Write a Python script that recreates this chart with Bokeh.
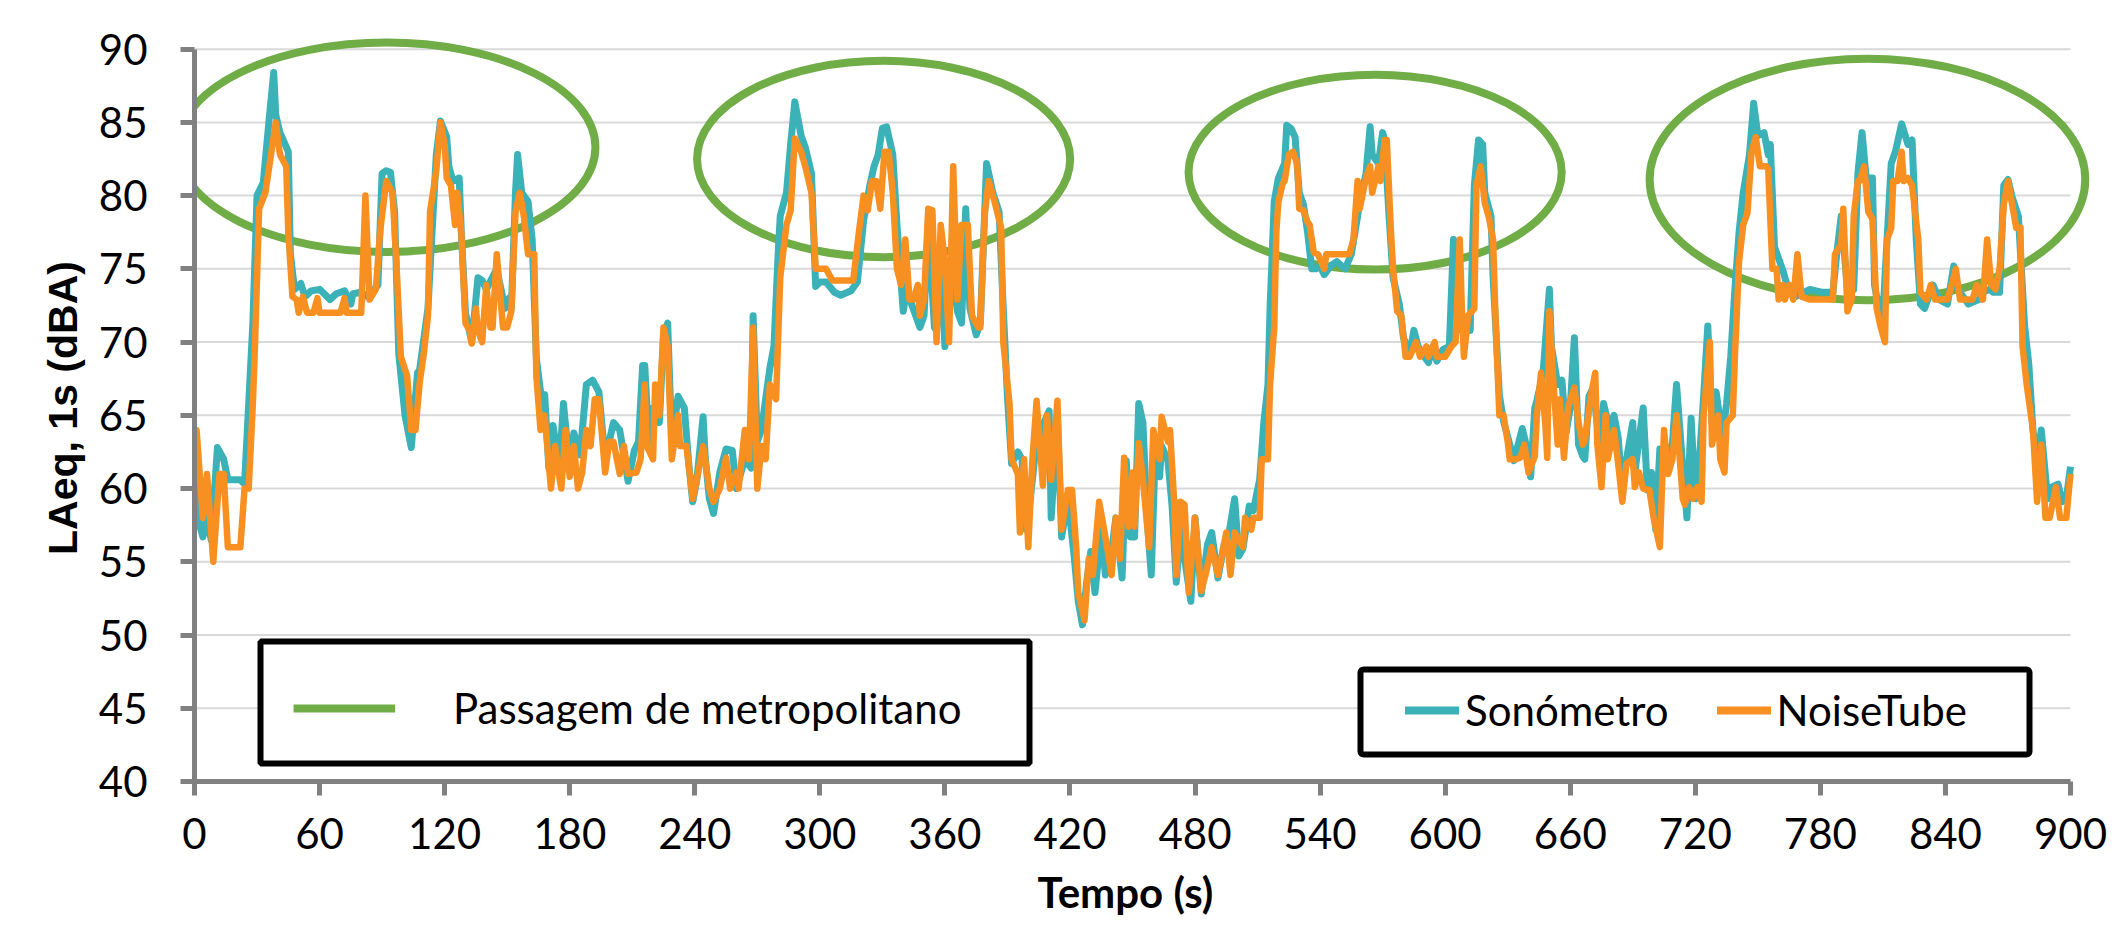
from bokeh.plotting import figure
from bokeh.models import Range1d, FixedTicker, Legend, LegendItem, BoxAnnotation, Title
from bokeh.embed import file_html
from bokeh.resources import INLINE

# Sound level meter (Sonómetro), LAeq 1 s, dBA
sono_t = [0, 1, 4, 6, 8, 11, 14, 16, 22, 24, 26, 28, 30, 33, 36, 38, 39, 41, 45, 46,
          48, 51, 53, 56, 60, 65, 68, 72, 75, 76, 80, 83, 85, 88, 90, 92, 94, 96, 98, 101,
          104, 107, 108, 112, 115, 116, 118, 121, 122, 124, 127, 128, 130, 133, 136, 138, 140, 145, 149, 151,
          152, 154, 155, 157, 160, 162, 164, 167, 168, 170, 172, 175, 177, 180, 182, 185, 188, 191, 194, 197,
          201, 204, 208, 211, 213, 215, 216, 218, 220, 223, 225, 227, 229, 232, 235, 237, 239, 241, 244, 245,
          247, 249, 252, 255, 258, 260, 264, 267, 268, 270, 272, 276, 278, 280, 281, 284, 286, 288, 291, 293,
          296, 298, 300, 303, 307, 310, 315, 318, 321, 324, 326, 328, 330, 332, 335, 337, 340, 342, 344, 348,
          350, 352, 355, 356, 358, 360, 363, 366, 368, 370, 372, 375, 377, 380, 383, 386, 388, 390, 392, 395,
          397, 399, 401, 403, 406, 410, 411, 414, 416, 419, 422, 424, 426, 428, 430, 432, 435, 437, 439, 442,
          445, 447, 449, 451, 453, 455, 457, 459, 461, 463, 464, 467, 469, 471, 473, 475, 478, 480, 483, 486,
          488, 491, 494, 496, 499, 501, 503, 506, 508, 511, 513, 515, 516, 518, 520, 523, 524, 526, 528, 530,
          532, 534, 536, 538, 540, 542, 545, 548, 552, 555, 558, 559, 562, 564, 565, 568, 570, 571, 573, 575,
          578, 580, 583, 585, 587, 590, 592, 594, 596, 599, 602, 604, 606, 608, 611, 612, 614, 616, 618, 619,
          622, 623, 626, 628, 631, 633, 635, 637, 639, 641, 643, 644, 647, 650, 651, 654, 656, 658, 660, 662,
          664, 666, 667, 669, 671, 674, 676, 679, 681, 683, 685, 687, 690, 691, 695, 697, 699, 701, 703, 706,
          709, 711, 714, 716, 718, 720, 722, 724, 726, 728, 730, 733, 735, 737, 739, 741, 743, 746, 748, 750,
          753, 755, 756, 758, 760, 762, 765, 768, 775, 781, 786, 788, 790, 793, 796, 798, 800, 802, 805, 806,
          808, 810, 812, 814, 816, 819, 822, 824, 826, 828, 830, 834, 837, 841, 844, 846, 851, 856, 858, 861,
          863, 866, 868, 870, 872, 875, 878, 880, 882, 884, 886, 889, 891, 894, 896, 898, 900]
sono_db = [62.6, 58.3, 56.7, 58.0, 56.5, 62.8, 62.0, 60.6, 60.6, 60.3, 65.8, 71.3, 80.0, 80.9, 85.5, 88.4, 85.5, 84.3, 83.0, 76.0,
           73.6, 74.0, 73.1, 73.5, 73.6, 72.9, 73.3, 73.5, 72.6, 73.3, 73.4, 73.1, 73.4, 73.9, 81.5, 81.7, 81.6, 78.9, 69.2, 65.0,
           62.8, 67.9, 68.1, 72.3, 80.2, 82.8, 85.1, 84.0, 82.0, 81.0, 81.2, 77.5, 72.0, 70.0, 74.4, 74.2, 73.6, 75.0, 72.3, 73.0,
           72.3, 80.2, 82.8, 80.2, 79.6, 77.0, 68.9, 65.5, 66.4, 61.4, 64.3, 61.4, 65.8, 61.4, 63.8, 62.3, 67.1, 67.4, 66.6, 62.0,
           64.5, 64.0, 60.5, 62.6, 63.2, 68.4, 68.4, 63.2, 65.5, 64.5, 70.3, 71.3, 63.2, 66.3, 65.5, 61.9, 59.1, 60.6, 64.9, 62.2,
           59.3, 58.3, 61.1, 62.7, 62.6, 60.0, 62.0, 61.4, 71.8, 63.2, 64.0, 68.2, 69.7, 76.0, 78.6, 80.2, 83.5, 86.4, 84.1, 83.3,
           81.5, 73.8, 74.1, 74.1, 73.4, 73.2, 73.5, 74.1, 78.3, 80.7, 82.0, 82.8, 84.6, 84.7, 82.8, 78.0, 72.1, 73.9, 72.6, 71.0,
           71.8, 78.0, 71.0, 70.8, 76.0, 69.7, 75.7, 72.1, 71.3, 79.1, 72.3, 70.5, 71.3, 82.2, 80.2, 78.9, 72.3, 66.3, 61.7, 62.5,
           62.0, 57.2, 59.3, 62.0, 64.0, 65.3, 58.0, 64.8, 56.7, 59.3, 55.4, 52.3, 50.7, 53.6, 55.7, 52.9, 57.2, 54.1, 54.6, 58.0,
           53.9, 61.9, 56.7, 56.7, 65.8, 64.5, 58.0, 54.1, 62.9, 60.8, 62.9, 61.9, 58.8, 53.6, 57.2, 55.2, 52.3, 58.0, 52.8, 56.2,
           57.0, 53.9, 56.2, 56.7, 59.3, 55.4, 55.9, 58.8, 58.5, 60.6, 64.5, 67.1, 72.3, 79.6, 81.2, 82.2, 84.8, 84.6, 84.0, 80.2,
           79.4, 77.5, 75.0, 75.0, 75.2, 74.6, 75.2, 75.5, 75.0, 76.0, 78.6, 79.6, 81.5, 84.7, 82.8, 82.2, 84.3, 83.8, 78.8, 74.4,
           72.6, 70.3, 69.2, 70.8, 69.7, 69.0, 68.6, 69.7, 68.7, 69.5, 69.7, 77.0, 75.0, 70.8, 71.3, 70.8, 80.7, 83.8, 83.5, 80.2,
           78.6, 74.4, 66.4, 64.6, 63.0, 61.9, 63.0, 64.1, 62.9, 60.8, 65.5, 66.0, 67.9, 73.6, 69.7, 67.1, 67.4, 63.8, 65.5, 70.3,
           63.0, 62.2, 62.0, 66.3, 66.9, 63.0, 65.8, 64.0, 65.0, 63.5, 59.9, 62.0, 64.5, 61.1, 65.5, 59.9, 61.1, 57.2, 62.7, 62.5,
           63.0, 67.1, 61.4, 58.0, 64.8, 59.3, 62.0, 66.3, 71.1, 64.5, 66.6, 63.5, 65.8, 69.0, 73.6, 77.5, 80.2, 82.8, 86.3, 84.1,
           84.3, 82.8, 83.5, 76.5, 75.7, 74.9, 73.4, 73.1, 73.6, 73.4, 73.4, 76.2, 78.6, 73.6, 73.6, 81.5, 84.3, 81.2, 81.2, 73.9,
           72.3, 71.8, 77.0, 82.2, 83.0, 84.9, 83.5, 83.8, 77.0, 72.6, 72.3, 73.9, 72.9, 72.6, 75.2, 73.6, 72.6, 72.9, 73.4, 73.6,
           73.4, 73.4, 80.7, 81.1, 79.9, 78.6, 71.1, 68.5, 64.0, 61.9, 64.0, 59.3, 60.1, 60.3, 59.1, 59.3, 61.5]

# Smartphone app (NoiseTube), LAeq 1 s, dBA
tube_t = [0, 1, 4, 6, 9, 12, 14, 16, 22, 24, 26, 28, 29, 31, 34, 39, 41, 44, 45, 47,
          49, 50, 52, 54, 57, 59, 60, 70, 72, 73, 80, 82, 84, 87, 89, 92, 95, 97, 99, 102,
          104, 106, 108, 110, 112, 113, 116, 118, 120, 121, 123, 125, 126, 128, 130, 132, 133, 135, 136, 138,
          140, 142, 143, 145, 148, 150, 152, 154, 156, 158, 160, 163, 164, 166, 168, 171, 173, 175, 176, 178,
          180, 182, 184, 186, 188, 190, 192, 194, 197, 199, 201, 204, 206, 208, 212, 214, 216, 217, 220, 221,
          223, 225, 227, 229, 232, 233, 236, 239, 241, 244, 247, 249, 252, 255, 257, 260, 261, 264, 266, 268,
          270, 272, 274, 276, 279, 281, 284, 286, 288, 291, 293, 296, 298, 300, 303, 306, 316, 319, 321, 323,
          325, 327, 329, 331, 333, 335, 337, 339, 341, 343, 345, 347, 348, 350, 352, 354, 356, 358, 360, 362,
          364, 366, 368, 371, 373, 376, 377, 379, 381, 384, 387, 388, 391, 392, 395, 396, 398, 400, 402, 404,
          407, 409, 411, 414, 416, 419, 421, 423, 424, 427, 429, 431, 434, 437, 440, 442, 444, 446, 448, 450,
          451, 453, 455, 458, 460, 463, 464, 467, 468, 470, 471, 473, 475, 477, 480, 483, 485, 488, 491, 495,
          497, 499, 503, 504, 507, 508, 511, 512, 515, 516, 518, 519, 520, 522, 523, 525, 527, 529, 530, 532,
          534, 535, 537, 539, 542, 543, 547, 554, 556, 558, 559, 562, 564, 565, 568, 569, 571, 572, 574, 575,
          577, 579, 581, 583, 586, 588, 591, 592, 595, 596, 600, 603, 605, 607, 608, 609, 611, 614, 615, 617,
          619, 621, 623, 624, 626, 628, 630, 631, 634, 636, 638, 640, 643, 644, 646, 648, 649, 650, 652, 654,
          655, 657, 659, 662, 664, 666, 667, 670, 672, 673, 675, 677, 678, 681, 683, 685, 687, 690, 691, 693,
          695, 698, 700, 703, 705, 707, 709, 711, 714, 715, 717, 719, 721, 723, 724, 727, 728, 731, 732, 734,
          735, 738, 739, 741, 743, 745, 747, 749, 751, 754, 755, 757, 759, 760, 762, 763, 765, 767, 769, 771,
          775, 786, 787, 790, 791, 793, 795, 796, 798, 799, 801, 803, 805, 807, 809, 811, 812, 814, 815, 817,
          819, 820, 822, 824, 827, 828, 831, 833, 835, 841, 843, 845, 847, 853, 855, 858, 860, 862, 864, 866,
          868, 870, 872, 874, 876, 877, 879, 882, 884, 886, 888, 890, 893, 895, 898, 900]
tube_db = [62.7, 64.0, 58.0, 61.0, 55.0, 61.0, 61.0, 56.0, 56.0, 60.0, 60.0, 65.8, 69.7, 79.1, 80.2, 85.0, 82.8, 82.0, 77.5, 73.1,
           72.9, 72.0, 73.1, 72.0, 72.0, 73.0, 72.0, 72.0, 73.0, 72.0, 72.0, 80.0, 72.9, 73.6, 77.5, 81.0, 80.2, 75.0, 69.0, 67.7,
           64.0, 64.0, 67.2, 69.2, 71.8, 78.9, 81.7, 85.0, 83.5, 81.2, 80.7, 78.0, 80.2, 77.5, 71.3, 70.8, 69.9, 72.3, 70.8, 70.0,
           73.9, 71.0, 71.0, 76.0, 71.0, 71.0, 72.1, 78.9, 80.2, 78.6, 76.0, 76.0, 67.7, 64.0, 65.0, 60.0, 62.9, 60.8, 60.0, 64.0,
           60.8, 62.9, 60.0, 61.1, 64.0, 62.9, 66.1, 66.1, 61.1, 63.2, 63.2, 61.0, 62.9, 61.0, 61.1, 62.0, 67.1, 62.9, 62.0, 67.1,
           65.0, 71.0, 69.7, 62.0, 65.0, 62.9, 62.9, 59.3, 60.6, 62.9, 60.0, 59.1, 60.0, 62.1, 60.0, 61.1, 60.0, 64.0, 62.0, 71.0,
           60.0, 62.9, 62.0, 67.1, 66.1, 74.4, 78.0, 79.0, 83.9, 83.0, 82.0, 80.2, 75.0, 75.0, 75.0, 74.2, 74.2, 77.8, 80.0, 79.0,
           81.0, 81.0, 79.1, 83.0, 83.0, 80.2, 75.0, 73.9, 77.0, 72.9, 72.9, 73.9, 71.8, 72.9, 79.1, 79.0, 70.0, 78.0, 75.5, 70.0,
           82.0, 72.9, 78.0, 78.0, 71.8, 71.0, 71.0, 78.6, 81.0, 79.5, 77.8, 70.0, 65.8, 62.0, 61.0, 57.0, 62.0, 56.0, 62.0, 66.0,
           60.2, 65.0, 60.6, 66.0, 57.2, 59.9, 59.9, 56.0, 52.9, 51.0, 55.2, 54.1, 59.1, 56.7, 54.1, 58.0, 55.2, 62.1, 57.4, 61.1,
           57.4, 63.1, 60.6, 56.0, 64.0, 62.0, 64.9, 63.2, 64.0, 59.1, 54.1, 59.1, 58.9, 52.9, 58.0, 53.0, 54.1, 56.0, 54.1, 57.0,
           54.1, 57.0, 56.0, 58.0, 57.2, 58.0, 58.0, 62.0, 62.0, 67.1, 71.0, 77.5, 79.6, 80.8, 81.0, 82.8, 83.0, 82.2, 79.1, 79.0,
           78.2, 78.0, 76.1, 76.0, 75.0, 76.0, 76.0, 76.0, 77.0, 81.0, 79.1, 81.2, 82.0, 80.2, 82.0, 81.0, 83.8, 83.8, 77.5, 75.0,
           72.1, 71.8, 69.0, 69.0, 70.0, 69.0, 69.7, 69.0, 70.0, 69.0, 69.0, 69.7, 70.0, 77.0, 72.3, 69.0, 71.8, 72.3, 80.7, 82.0,
           79.5, 78.5, 77.0, 72.3, 65.0, 65.0, 63.2, 62.0, 62.0, 62.1, 63.0, 61.1, 62.2, 65.0, 67.9, 64.5, 62.1, 72.1, 67.1, 63.0,
           66.1, 62.1, 65.6, 66.9, 64.5, 63.0, 63.2, 66.4, 67.9, 63.0, 60.1, 65.0, 62.0, 64.0, 61.7, 59.1, 61.7, 62.0, 60.1, 61.1,
           60.0, 59.9, 58.0, 56.0, 64.0, 61.0, 62.0, 65.0, 59.3, 58.9, 60.1, 59.3, 60.1, 59.1, 65.0, 70.0, 63.0, 65.0, 62.0, 61.1,
           64.5, 65.0, 69.0, 75.5, 78.0, 78.8, 83.0, 84.0, 82.0, 82.0, 81.8, 75.0, 75.0, 72.9, 73.9, 72.9, 73.9, 72.9, 76.0, 73.1,
           72.9, 72.9, 76.0, 76.7, 79.1, 72.1, 72.9, 78.6, 81.0, 81.0, 82.0, 78.9, 78.4, 72.3, 71.0, 70.0, 77.0, 77.8, 81.0, 81.0,
           83.0, 81.0, 81.2, 80.7, 77.0, 73.4, 72.9, 73.9, 72.9, 72.9, 73.9, 75.0, 72.9, 72.9, 73.9, 72.9, 77.0, 73.9, 73.6, 75.0,
           79.4, 81.0, 79.4, 77.8, 77.8, 69.7, 67.1, 64.0, 59.1, 63.0, 58.0, 58.0, 60.1, 58.0, 58.0, 61.0]

# Metro passages: centre time (s), centre level (dBA), span (s), span (dBA)
metro_t = [92.1, 330.6, 566.4, 802.6]
metro_db = [83.3, 82.5, 81.6, 81.1]
metro_w = [200.5, 179.0, 179.0, 209.0]
metro_h = [14.3, 13.4, 13.3, 16.5]

x_ticks = list(range(0, 901, 60))
y_ticks = list(range(40, 91, 5))

TEAL = "#3BB1B8"
ORANGE = "#F79021"
GREEN = "#70AD47"
AXIS_GREY = "#808080"
PAGE_GREEN = "#C6DA8E"

p = figure(width=2115, height=929, output_backend="svg", toolbar_location=None,
           x_range=Range1d(0, 912), y_range=Range1d(40, 91),
           min_border_left=194, min_border_right=20, min_border_top=34, min_border_bottom=146)
p.background_fill_color = "white"
p.border_fill_color = "white"
p.outline_line_color = None
p.xgrid.visible = False
p.ygrid.visible = False

# horizontal grid lines limited to the 0-900 s span
grid_levels = y_ticks[1:]
p.segment(x0=[x_ticks[0]] * len(grid_levels), x1=[x_ticks[-1]] * len(grid_levels),
          y0=grid_levels, y1=grid_levels, line_color="#D9D9D9", line_width=2, level="underlay")

# axes
for ax in (p.xaxis[0], p.yaxis[0]):
    ax.axis_line_color = AXIS_GREY
    ax.axis_line_width = 5
    ax.major_tick_line_color = AXIS_GREY
    ax.major_tick_line_width = 5
    ax.major_tick_out = 14
    ax.major_tick_in = 0
    ax.minor_tick_line_color = None
    ax.major_label_text_font = "Lato"
    ax.major_label_text_font_size = "42px"
    ax.major_label_text_color = "black"

p.xaxis.ticker = FixedTicker(ticks=x_ticks)
p.xaxis.bounds = (x_ticks[0], x_ticks[-1])
p.xaxis.major_label_standoff = 22

p.yaxis.ticker = FixedTicker(ticks=y_ticks)
p.yaxis.bounds = (y_ticks[0], y_ticks[-1])
p.yaxis.major_label_standoff = 33
p.yaxis.axis_label = "LAeq, 1s (dBA)"
p.yaxis.axis_label_text_font = "Liberation Sans"
p.yaxis.axis_label_text_font_style = "bold"
p.yaxis.axis_label_text_font_size = "41px"
p.yaxis.axis_label_text_color = "black"
p.yaxis.axis_label_standoff = 10

# x-axis title, placed under the middle of the 0-900 s span
p.add_layout(Title(text="Tempo (s)", align="left", offset=843, standoff=26,
                   text_font="Lato", text_font_style="bold", text_font_size="42px",
                   text_color="black"), "below")

# metro passage markers
p.ellipse(x=metro_t, y=metro_db, width=metro_w, height=metro_h,
          fill_alpha=0, line_color=GREEN, line_width=8)

# measured series
p.line(sono_t, sono_db, line_color=TEAL, line_width=7, line_join="round")
p.line(tube_t, tube_db, line_color=ORANGE, line_width=6.5, line_join="round")

# legend swatches (hidden renderers, only their legend glyph is shown)
sw_green = p.line(metro_t, metro_db, line_color=GREEN, line_width=8, visible=False)
sw_teal = p.line(sono_t, sono_db, line_color=TEAL, line_width=8, line_cap="round", visible=False)
sw_orange = p.line(tube_t, tube_db, line_color=ORANGE, line_width=8, line_cap="round", visible=False)

def canvas_box(l, r, t, b, **kw):
    return BoxAnnotation(left=l, right=r, top=t, bottom=b,
                         left_units="canvas", right_units="canvas",
                         top_units="canvas", bottom_units="canvas", **kw)

# legend frames
p.add_layout(canvas_box(260, 1029, 641, 763, fill_color="white", fill_alpha=1,
                        line_color="black", line_alpha=1, line_width=6), "center")
p.add_layout(canvas_box(1360, 2029, 669, 754, fill_color="white", fill_alpha=1,
                        line_color="black", line_alpha=1, line_width=6, border_radius=3), "center")

common = dict(padding=0, margin=0, spacing=0, border_line_color=None,
              background_fill_alpha=0, label_text_font="Lato",
              label_text_font_size="42px", label_text_color="black",
              label_height=50, glyph_height=50)

leg1 = Legend(items=[LegendItem(label="Passagem de metropolitano", renderers=[sw_green])],
              location=(99, 48), glyph_width=102, label_standoff=58, **common)
leg2 = Legend(items=[LegendItem(label="Sonómetro", renderers=[sw_teal]),
                     LegendItem(label="NoiseTube", renderers=[sw_orange])],
              location=(1211, 46), orientation="horizontal", glyph_width=54,
              label_standoff=6, **{**common, "spacing": 48})
p.add_layout(leg1, "center")
p.add_layout(leg2, "center")

# page frame strips
p.add_layout(canvas_box(0, 10, 0, 929, fill_color=PAGE_GREEN, fill_alpha=1, line_color=None), "center")
p.add_layout(canvas_box(0, 2115, 0, 10, fill_color=PAGE_GREEN, fill_alpha=1, line_color=None), "center")
p.add_layout(canvas_box(10, 2115, 10, 12, fill_color="#D8D8D8", fill_alpha=1, line_color=None), "center")

open("out.html", "w").write(file_html(p, INLINE))
